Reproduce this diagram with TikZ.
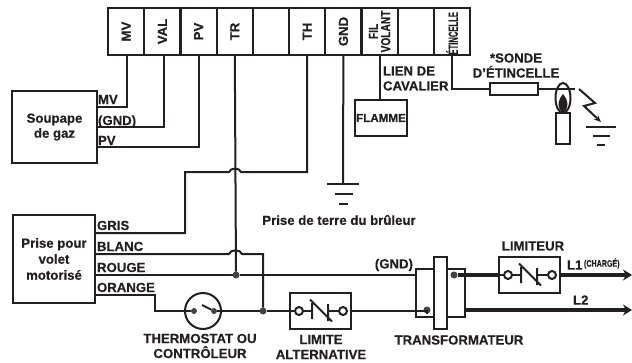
\documentclass[tikz,border=0pt]{standalone}
\usepackage{fontspec}
\setmainfont{Liberation Sans}[BoldFeatures={FakeBold=0.4}]
\usetikzlibrary{arrows.meta}
\definecolor{inkcol}{HTML}{231F20}
\tikzset{
    every node/.style={font=\fontsize{13.2}{15}\selectfont\bfseries, text=inkcol, inner sep=0pt, outer sep=0pt},
    wire/.style={draw=inkcol, line width=2pt}, % ordinary wiring
    power/.style={draw=inkcol, line width=3.6pt}, % heavy L1 and L2 wiring
    boxnode/.style={draw=inkcol, line width=2pt, rectangle, align=center},
    cellnode/.style={boxnode, minimum width=36.3pt, minimum height=47pt},
    tagnode/.style={anchor=base west},
    dotnode/.style={circle, fill=inkcol!85, minimum size=7pt},
    limitmark/.pic={
        \draw[wire] (-30.5,0) -- (-25.5,0) (-17.5,0) -- (-8.5,0) (7.5,0) -- (18.5,0);
        \draw[wire] (-8.5,-8) -- (-8.5,8) (7.5,-7) -- (7.5,10) (-10.5,-11.5) -- (11.5,10.5);
        \draw[wire, fill=white] (-21.5,0) circle[radius=4pt] (22.5,0) circle[radius=4pt];
    }
}
\begin{document}
\begin{tikzpicture}[x=1pt, y=-1pt]
    \useasboundingbox (0,0) rectangle (632,362);
    % terminal strip
    \foreach \name/\tag [count=\i from 0] in {
        mv/MV, val/VAL, pv/PV, tr/TR, blank/, th/TH, gnd/GND,
        fil/{\scalebox{0.77}[1]{\shortstack{FIL\\VOLANT}}},
        spare/,
        spark/{\scalebox{0.58}[1]{ÉTINCELLE}}
    }{
        \node[cellnode] (\name) at (126.2+36.2*\i,31.5) {\rotatebox{90}{\tag}};
    }
    % boxes
    \node[boxnode, minimum width=85pt, minimum height=72pt] (soupape) at (54.5,127) {Soupape\\de gaz};
    \node[boxnode, minimum width=82pt, minimum height=88pt, font=\fontsize{13.2}{16}\selectfont\bfseries] (prise) at (54,259) {Prise pour\\volet\\motorisé};
    \node[boxnode, minimum width=52pt, minimum height=36pt, font=\fontsize{11.6}{13}\selectfont\bfseries] (flamme) at (381,118) {FLAMME};
    \node[boxnode, minimum width=48pt, minimum height=12pt] (sonde) at (514,89) {};
    \node[boxnode, minimum width=61pt, minimum height=36pt] (limite) at (320.5,311) {};
    \node[boxnode, minimum width=61pt, minimum height=36pt] (limiteur) at (529.5,275) {};
    \node[draw=inkcol, line width=2pt, circle, minimum size=36pt] (therm) at (203,311) {};
    \node[boxnode, minimum width=18pt, minimum height=48pt] (transl) at (425,293) {};
    \node[boxnode, minimum width=18pt, minimum height=48pt] (transr) at (456,293) {};
    \node[boxnode, minimum width=13pt, minimum height=72pt] (transm) at (440.5,293) {};
    \pic at (limite) {limitmark};
    \pic at (limiteur) {limitmark};
    % wire ends and hops
    \coordinate (mvend) at (97,107);
    \coordinate (valend) at (97,127);
    \coordinate (pvend) at (97,147);
    \coordinate (grisend) at (95,233);
    \coordinate (blancend) at (95,254);
    \coordinate (rougeend) at (95,275);
    \coordinate (orangeend) at (95,295);
    \coordinate (hopthr) at (241,172);
    \coordinate (hopthl) at (229,172);
    \coordinate (hopblr) at (242,254);
    \coordinate (hopbll) at (229,254);
    \coordinate (sondeend) at (575,89);
    \coordinate (earth) at (343,184);
    \coordinate (spark a) at (579,89);
    \coordinate (spark b) at (595,103);
    \coordinate (spark c) at (584,106);
    \coordinate (spark d) at (601,122);
    \coordinate (l1end) at (632,275);
    \coordinate (l2end) at (632,310);
    \node[dotnode] (dottr) at (236,275) {};
    \node[dotnode] (dotlim) at (263,311) {};
    \node[dotnode] (dottl) at (427,310) {};
    \node[dotnode] (dottr2) at (454,275) {};
    \node[dotnode, minimum size=6pt] (dotsa) at (194,311) {};
    \node[dotnode, minimum size=6pt] (dotsb) at (214,311) {};
    % connectors
    \draw[wire] (mv.south -| 127,0) |- (mvend);
    \draw[wire] (val.south -| 163.5,0) |- (valend);
    \draw[wire] (pv.south -| 199,0) |- (pvend);
    \draw[wire] (tr.south) -- (dottr);
    \draw[wire] (th.south) |- (hopthr) to[bend right=75] (hopthl) -- (185,172) |- (grisend);
    \draw[wire] (gnd.south) -- (earth);
    \draw[wire] (fil.south) -- (fil.south |- flamme.north);
    \draw[wire] (spark.south) |- (sonde.west);
    \draw[wire] (sonde.east) -- (sondeend);
    \draw[wire] (blancend) -- (hopbll) to[bend left=75] (hopblr) -| (dotlim);
    \draw[wire] (rougeend) -- (dottr) -- (transl.west |- dottr);
    \draw[wire] (orangeend) -| (155,311) -- (therm.west) -- (dotsa);
    \draw[wire] (dotsb) -- (therm.east) -- (dotlim) -- (limite.west);
    \draw[wire] (limite.east) -- (limite.east -| dottl) -- (dottl);
    \draw[wire] (202,305) -- (dotsb);
    \draw[power] (dottr2) -- (dottr2 -| limiteur.west);
    \draw[power, -{Stealth[length=9pt,width=11pt]}] (limiteur.east) -- (l1end);
    \draw[power, -{Stealth[length=9pt,width=11pt]}] (transr.east |- l2end) -- (l2end);
    % earth symbols
    \draw[wire] (327,184) -- (359,184) (335,194) -- (353,194);
    \draw[wire, line width=2.4pt] (339,204) -- (348,204);
    \draw[wire] (586,127) -- (616,127) (593,136) -- (610,136);
    \draw[wire, line width=2.4pt] (597,145) -- (605,145);
    % electrode
    \draw[wire] (563,98) ellipse[x radius=7.5, y radius=15];
    \fill[inkcol] (563,94) .. controls (569,101) and (569,109) .. (563,113) .. controls (557,109) and (557,101) .. (563,94);
    \node[boxnode, fill=white, minimum width=14pt, minimum height=31pt] (plug) at (563,128.5) {};
    \draw[wire, -{Stealth[length=7pt,width=6pt]}] (spark a) -- (spark b) -- (spark c) -- (spark d);
    % labels
    \node[tagnode] (mvtag) at (98,104) {MV};
    \node[tagnode] (gndtag) at (98,125) {(GND)};
    \node[tagnode] (pvtag) at (98,145) {PV};
    \node[tagnode] (gristag) at (97,230) {GRIS};
    \node[tagnode] (blanctag) at (97,251) {BLANC};
    \node[tagnode] (rougetag) at (97,272) {ROUGE};
    \node[tagnode] (orangetag) at (97,292) {ORANGE};
    \node[align=left, anchor=west] (lien) at (383,78.5) {LIEN DE\\CAVALIER};
    \node[align=center] (sondetag) at (516,65.5) {*SONDE\\D’ÉTINCELLE};
    \node (terre) at (339,220) {Prise de terre du brûleur};
    \node[align=center] (thermtag) at (200,346) {THERMOSTAT OU\\CONTRÔLEUR};
    \node[align=center] (limitetag) at (321,347) {LIMITE\\ALTERNATIVE};
    \node (transtag) at (459,340) {TRANSFORMATEUR};
    \node (limiteurtag) at (533,246) {LIMITEUR};
    \node[anchor=east] (gndtag2) at (413,265) {(GND)};
    \node[anchor=west] (lonetag) at (567,265) {L1};
    \node[anchor=west, font=\fontsize{9.5}{11}\selectfont\bfseries] (chargetag) at (584,263.5) {\scalebox{0.75}[1]{(CHARGÉ)}};
    \node[anchor=west] (ltwotag) at (573,300) {L2};
\end{tikzpicture}
\end{document}
